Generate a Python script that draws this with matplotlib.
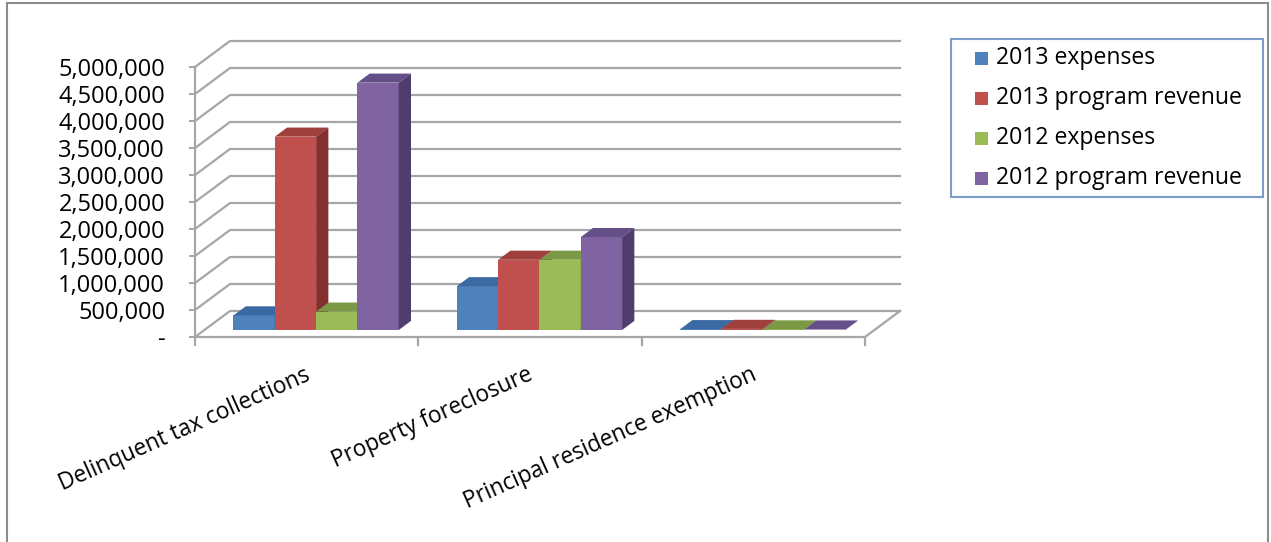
import numpy as np
import matplotlib
matplotlib.use("Agg")
import matplotlib.pyplot as plt
from matplotlib.patches import Polygon, Rectangle

plt.rcParams["font.family"] = ["Open Sans", "DejaVu Sans"]

categories = ["Delinquent tax collections", "Property foreclosure", "Principal residence exemption"]
series_names = ["2013 expenses", "2013 program revenue", "2012 expenses", "2012 program revenue"]
exp_2013 = [270000, 810000, 15000]
rev_2013 = [3580000, 1300000, 20000]
exp_2012 = [340000, 1300000, 10000]
rev_2012 = [4580000, 1720000, 8000]
y_ticks = np.arange(0, 5000001, 500000)

series = [exp_2013, rev_2013, exp_2012, rev_2012]
front_col = ["#4F81BD", "#C0504D", "#9BBB59", "#8064A2"]
top_col = ["#3B6AA3", "#A0403D", "#7C9A45", "#654F89"]
side_col = ["#2F5788", "#83302E", "#627C35", "#4F3D6D"]
grid_col = "#A6A6A6"

W, H = 1271, 542
fig = plt.figure(figsize=(W / 100, H / 100), dpi=100)

# plot box in pixels: front-left axis x=195, back-right x=900, front zero y=337, back top y=41
ax = fig.add_axes([195 / W, (H - 337) / H, 705 / W, 296 / H])
ncat = len(categories)
dx = 35 / 223.3              # depth offset in category units
dy = 26 / 54 * 1e6           # depth offset in value units
ymax = y_ticks[-1]
ax.set_xlim(0, ncat + dx)
ax.set_ylim(0, ymax + dy)

# walls / gridlines
for t in y_ticks:
    ax.plot([0, dx, ncat + dx], [t, t + dy, t + dy], color=grid_col, lw=1.6, clip_on=False, zorder=1)
# floor front and right edges
ax.plot([0, ncat, ncat + dx], [0, 0, dy], color=grid_col, lw=1.6, clip_on=False, zorder=1)
# category tick marks below floor
for c in range(ncat + 1):
    ax.plot([c, c], [0, -8 / 54 * 1e6], color=grid_col, lw=1.6, clip_on=False, zorder=1)

# bars with fake depth
f0, f1 = 0.27, 0.62
gap = 0.26
bw = (1 - gap) / len(series)
for c in range(ncat):
    for i, vals in enumerate(series):
        v = vals[c]
        x0 = c + gap / 2 + i * bw + f0 * dx
        y0 = f0 * dy
        ddx, ddy = (f1 - f0) * dx, (f1 - f0) * dy
        z = 3 + c * 10 + i
        ax.bar(x0, v, width=bw, bottom=y0, align="edge", color=front_col[i], lw=0, zorder=z)
        top = [(x0, y0 + v), (x0 + bw, y0 + v), (x0 + bw + ddx, y0 + v + ddy), (x0 + ddx, y0 + v + ddy)]
        side = [(x0 + bw, y0), (x0 + bw, y0 + v), (x0 + bw + ddx, y0 + v + ddy), (x0 + bw + ddx, y0 + ddy)]
        ax.add_patch(Polygon(top, closed=True, color=top_col[i], lw=0, zorder=z))
        ax.add_patch(Polygon(side, closed=True, color=side_col[i], lw=0, zorder=z))

# front value axis
for s in ["top", "right", "bottom"]:
    ax.spines[s].set_visible(False)
ax.spines["left"].set_color(grid_col)
ax.spines["left"].set_linewidth(1.6)
ax.spines["left"].set_bounds(0, ymax)
ax.set_yticks(y_ticks)
ax.set_yticklabels(["-" if t == 0 else f"{t:,.0f}" for t in y_ticks])
ax.tick_params(axis="y", length=4.5, width=1.4, color=grid_col, pad=17, labelsize=17)
ax.set_xticks([])

# category labels
for c, name in enumerate(categories):
    ax.text(c + 0.5 - 3 / 223.3, -26 / 54 * 1e6, name, rotation=24, rotation_mode="anchor",
            ha="right", va="top", fontsize=16.3, clip_on=False)

# legend
lx0, ly0, lx1, ly1 = 951, 39, 1263, 197
fig.patches.append(Rectangle((lx0 / W, 1 - ly1 / H), (lx1 - lx0) / W, (ly1 - ly0) / H,
                             transform=fig.transFigure, fill=False, ec="#7E9CCB", lw=1.5))
for i, name in enumerate(series_names):
    yc = 58 + 40 * i
    fig.patches.append(Rectangle((975 / W, 1 - (yc + 6.5) / H), 13 / W, 13 / H,
                                 transform=fig.transFigure, color=front_col[i], lw=0))
    fig.text(996 / W, 1 - yc / H, name, fontsize=16.6, va="center", ha="left")

# outer chart border
fig.patches.append(Rectangle((7 / W, -0.05), 1261 / W, 1.05 - 3 / H, transform=fig.transFigure,
                             fill=False, ec="#8C8C8C", lw=1.5))

fig.savefig("out.png", dpi=100)
